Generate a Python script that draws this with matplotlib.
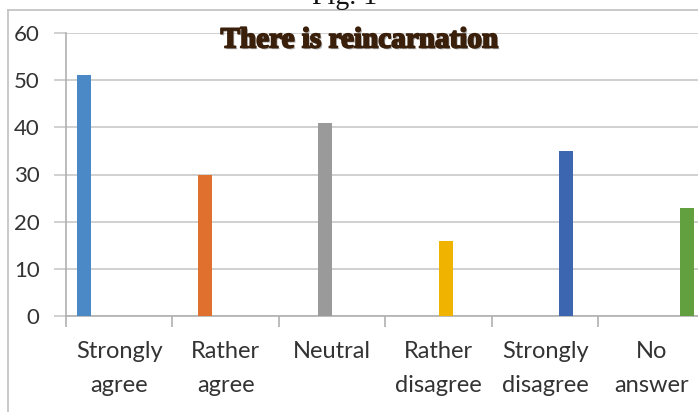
import matplotlib
matplotlib.use("Agg")
import matplotlib.pyplot as plt
import matplotlib.patheffects as pe
from matplotlib.lines import Line2D
import numpy as np

# Survey answers and counts
categories = ["Strongly\nagree", "Rather\nagree", "Neutral", "Rather\ndisagree", "Strongly\ndisagree", "No\nanswer"]
counts = [51, 30, 41, 16, 35, 23]
colors = ["#4a89c6", "#e0702d", "#9a9a9a", "#f0b400", "#3d66b0", "#62a03f"]
y_ticks = [0, 10, 20, 30, 40, 50, 60]

fig = plt.figure(figsize=(6.98, 4.12), dpi=100)
ax = fig.add_axes([66 / 698, 96 / 412, 639 / 698, 283 / 412])

# Excel-style clustered bars: one series per answer, so each sits at its own offset in the group
n = len(categories)
bar_w = 14 / 106.5
x = np.arange(n)
for i in range(n):
    offset = (i - (n - 1) / 2) * bar_w
    ax.bar(x[i] + offset, counts[i], width=bar_w, color=colors[i], zorder=3)

ax.set_xlim(-0.5, n - 0.5)
ax.set_ylim(0, 60)
ax.set_yticks(y_ticks)
ax.set_yticklabels([str(v) for v in y_ticks], fontsize=16, family="Lato", color="#333333")
ax.yaxis.grid(True, color="#c8c8c8", linewidth=1.2, zorder=0)

ax.set_xticks(x)
ax.set_xticklabels(categories, fontsize=17, family="Lato", color="#333333", linespacing=1.75)
ax.set_xticks(np.arange(-0.5, n, 1.0), minor=True)
ax.tick_params(axis="x", which="major", length=0, pad=18)
ax.tick_params(axis="x", which="minor", length=8, color="#b0b0b0", width=1.2)
ax.tick_params(axis="y", length=9, color="#c8c8c8", width=1.2, pad=10)

for s in ["top", "right"]:
    ax.spines[s].set_visible(False)
ax.spines["left"].set_color("#b0b0b0")
ax.spines["bottom"].set_color("#b0b0b0")
ax.spines["left"].set_linewidth(1.2)
ax.spines["bottom"].set_linewidth(1.2)

# Title with a soft shadow, on top of the grid
fig.text(359 / 698, 1 - 40 / 412, "There is reincarnation", ha="center", va="center",
         fontsize=21, family="Liberation Serif", weight="bold", color="#3a1f0a", zorder=5,
         path_effects=[pe.withSimplePatchShadow(offset=(1.2, -1.2), shadow_rgbFace="#777777", alpha=0.6),
                       pe.Stroke(linewidth=1.3, foreground="#3a1f0a"), pe.Normal()])

# Chart border (left and top visible) and cropped figure caption
fig.add_artist(Line2D([8 / 698, 8 / 698], [0, 1 - 10 / 412], color="#c0c0c0", linewidth=1.2))
fig.add_artist(Line2D([8 / 698, 1], [1 - 10 / 412, 1 - 10 / 412], color="#c0c0c0", linewidth=1.2))
fig.text(345 / 698, 1 - 4 / 412, "Fig. 1", ha="center", va="baseline",
         fontsize=20, family="Liberation Serif", color="#111111")

fig.savefig("out.png", dpi=100)
